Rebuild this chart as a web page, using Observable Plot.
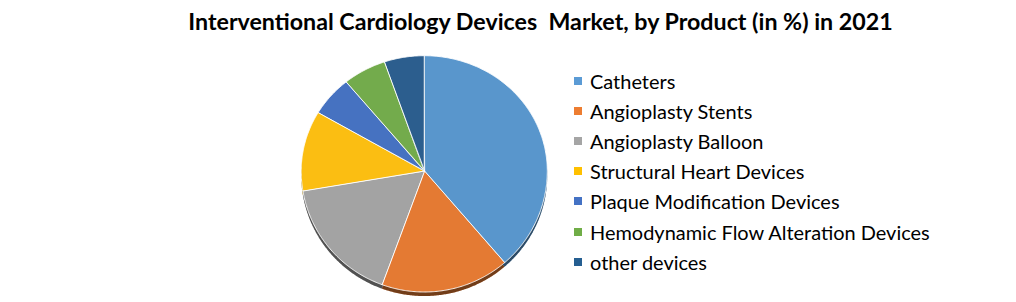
<!DOCTYPE html>
<html>
<head>
<meta charset="utf-8">
<script src="https://cdn.jsdelivr.net/npm/d3@7"></script>
<script src="https://cdn.jsdelivr.net/npm/@observablehq/plot@0.6"></script>
<style>
  html, body { margin: 0; padding: 0; background: #fff; }
  #wrap { position: relative; width: 1016px; height: 302px; overflow: hidden; }
  #legend { position: absolute; left: 0; top: 0; }
  .row { position: absolute; display: flex; align-items: center; white-space: nowrap; color: #000; }
  .sw { width: 8px; height: 8px; margin-right: 8px; flex: none; }
</style>
</head>
<body>
<div id="wrap"></div>
<script>
// ---- data ----
const title = "Interventional Cardiology Devices  Market, by Product (in %) in 2021";
const categories = [
  "Catheters",
  "Angioplasty Stents",
  "Angioplasty Balloon",
  "Structural Heart Devices",
  "Plaque Modification Devices",
  "Hemodynamic Flow Alteration Devices",
  "other devices"
];
const shares = [38.7, 16.9, 16.8, 11.1, 5.6, 5.7, 5.2];
const sliceColors = ["#5996CC", "#E47A33", "#A3A3A3", "#FBBE12", "#4672C1", "#73AB4C", "#2C5E8E"];
const legendColors = ["#5B9BD5", "#ED7D31", "#A5A5A5", "#FFC000", "#4472C4", "#70AD47", "#255E91"];

// ---- helpers ----
const FONT = "Lato, 'Open Sans', 'DejaVu Sans', sans-serif";
function fitSize(text, weight, target) {
  const ctx = document.createElement("canvas").getContext("2d");
  ctx.font = `${weight} 100px Lato`;
  return 100 * target / ctx.measureText(text).width;
}
const titleSize = fitSize(title, "bold", 706);
const legendSize = fitSize("Hemodynamic Flow Alteration Devices", "normal", 341);

// pie geometry derived from the shares (angles clockwise from top);
// the far (upper) half is slightly foreshortened, as in the tilted original
const tilt = 115.3 / 121;
const table = categories.map((name, i) => ({name, share: shares[i]}));
const arcs = d3.pie().sort(null).value(d => d.share)(table);
const pts = [];
for (const a of arcs) {
  const name = a.data.name;
  const n = Math.max(2, Math.ceil((a.endAngle - a.startAngle) / 0.01));
  for (let k = 0; k <= n; k++) {
    const t = a.startAngle + (a.endAngle - a.startAngle) * k / n;
    const c = Math.cos(t);
    pts.push({name, px: Math.sin(t), py: c > 0 ? c * tilt : c});
  }
}
const wedge = {x1: "px", y1: "py", x2: d => 0, y2: d => 0, z: "name", curve: "linear"};

const chart = Plot.plot({
  width: 1016,
  height: 302,
  margin: 0,
  style: {fontFamily: FONT, background: "#fff", color: "#000"},
  x: {domain: [-1, 1], range: [301.2, 547.3], axis: null},
  y: {domain: [-1, tilt], range: [292, 55.7], axis: null},
  color: {domain: categories, range: sliceColors},
  marks: [
    // drop shadow
    Plot.area(pts, {...wedge, fill: "name", stroke: "none", dy: 4}),
    Plot.area(pts, {...wedge, fill: "#000", fillOpacity: 0.5, stroke: "none", dy: 4}),
    // slices
    Plot.area(pts, {...wedge, fill: "name", stroke: "#fff", strokeWidth: 1, strokeOpacity: 0.9}),
    // title
    Plot.text([title.replace("  ", "\u00a0 ")], {
      text: d => d, frameAnchor: "top", lineAnchor: "top", dx: 32, dy: 12.5,
      fontSize: titleSize, fontWeight: "bold", fill: "#000"
    })
  ]
});

const wrap = document.getElementById("wrap");
wrap.appendChild(chart);

// legend
const legend = document.createElement("div");
legend.id = "legend";
legendColors.forEach((c, i) => {
  const row = document.createElement("div");
  row.className = "row";
  row.style.fontFamily = FONT;
  row.style.fontSize = legendSize + "px";
  row.style.lineHeight = "24px";
  row.style.height = "24px";
  row.style.left = "574px";
  row.style.top = (81 + i * 30.12 - 12) + "px";
  const sw = document.createElement("span");
  sw.className = "sw";
  sw.style.background = c;
  const tx = document.createElement("span");
  tx.textContent = categories[i];
  row.appendChild(sw);
  row.appendChild(tx);
  legend.appendChild(row);
});
wrap.appendChild(legend);
</script>
</body>
</html>
